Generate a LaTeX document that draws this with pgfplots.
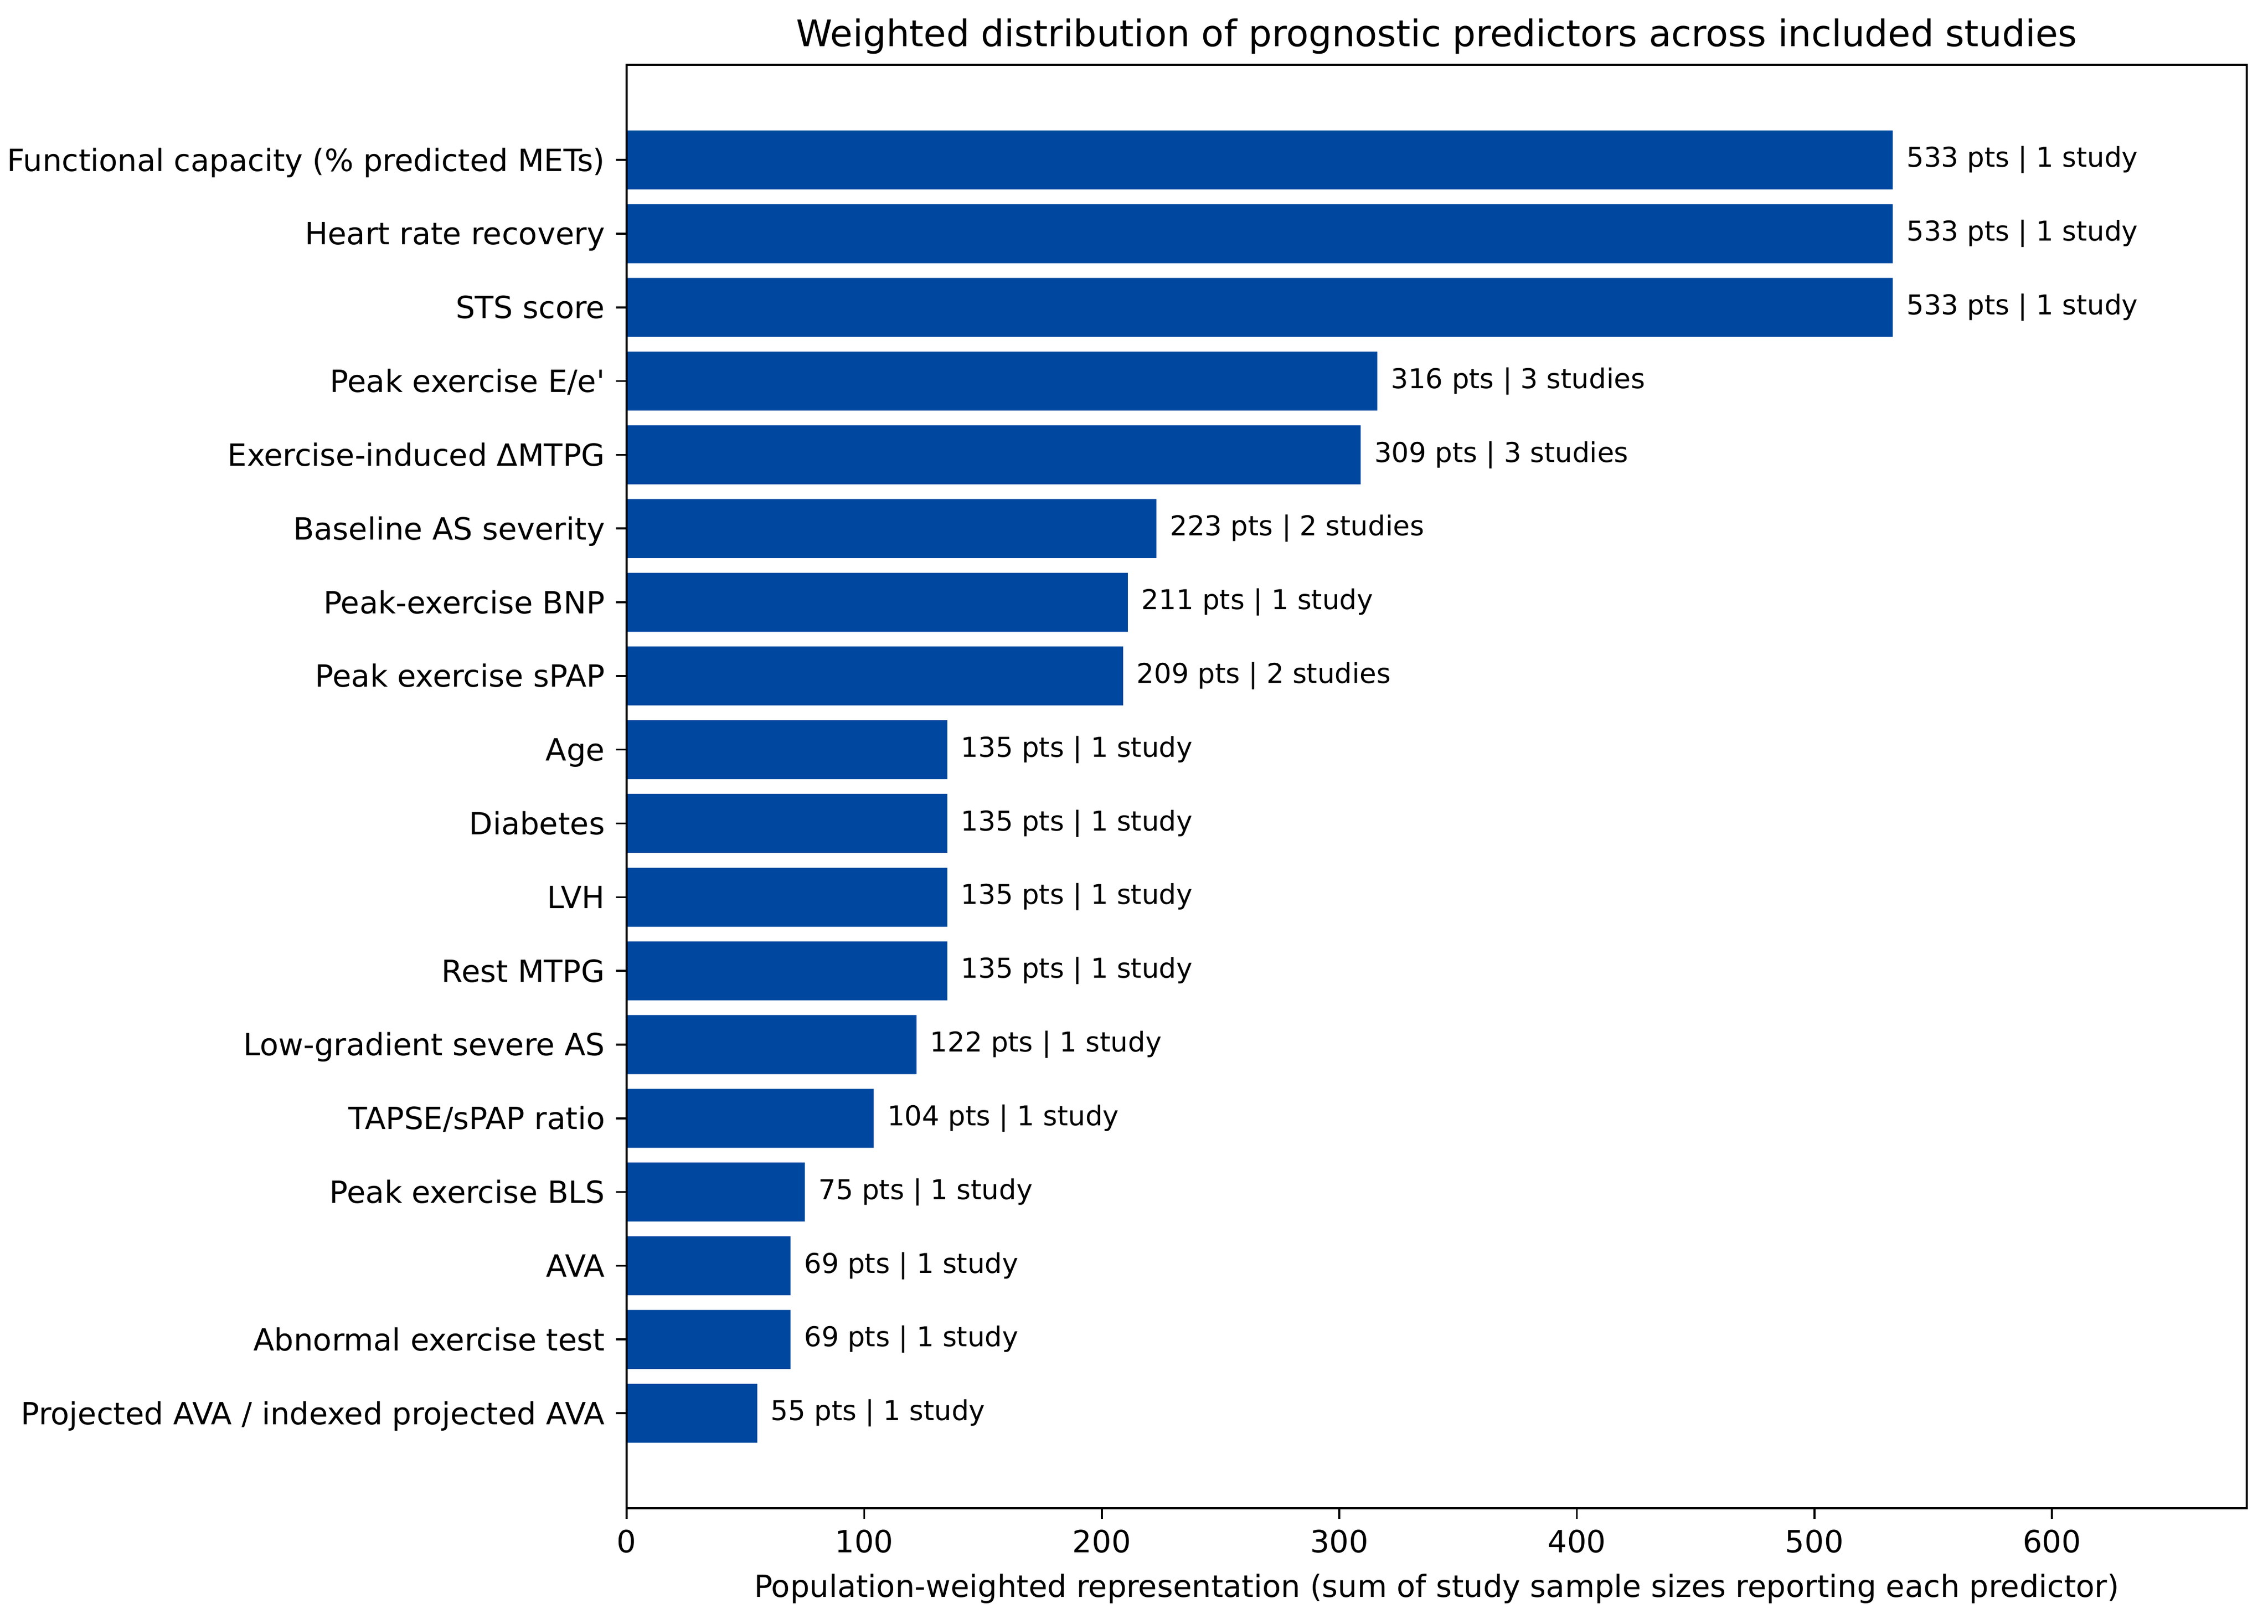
\documentclass[border=0pt]{standalone}
\usepackage{fontspec}
\setmainfont{DejaVu Sans}
\usepackage{pgfplots}
\usepackage{pgfplotstable}
\pgfplotsset{compat=1.18}
\definecolor{barblue}{RGB}{0,71,159}
\pgfplotstableread[col sep=semicolon]{
y;v;lab
0;533;533 pts | 1 study
1;533;533 pts | 1 study
2;533;533 pts | 1 study
3;316;316 pts | 3 studies
4;309;309 pts | 3 studies
5;223;223 pts | 2 studies
6;211;211 pts | 1 study
7;209;209 pts | 2 studies
8;135;135 pts | 1 study
9;135;135 pts | 1 study
10;135;135 pts | 1 study
11;135;135 pts | 1 study
12;122;122 pts | 1 study
13;104;104 pts | 1 study
14;75;75 pts | 1 study
15;69;69 pts | 1 study
16;69;69 pts | 1 study
17;55;55 pts | 1 study
}\datatable
\begin{document}
\begin{tikzpicture}
\path[use as bounding box] (-283.2pt,-52.1pt) rectangle (741.8pt,681.6pt);
\begin{axis}[
  at={(0pt,0pt)}, anchor=south west,
  scale only axis, width=732.2pt, height=652.3pt,
  xbar, bar width=0.8,
  xmin=0, xmax=682,
  ymin=-1.29, ymax=18.29, y dir=reverse,
  ytick={0,...,17},
  yticklabels={Functional capacity (\% predicted METs),Heart rate recovery,STS score,Peak exercise E/e\textquotesingle,Exercise-induced ΔMTPG,Baseline AS severity,Peak-exercise BNP,Peak exercise sPAP,Age,Diabetes,LVH,Rest MTPG,Low-gradient severe AS,TAPSE/sPAP ratio,Peak exercise BLS,AVA,Abnormal exercise test,Projected AVA / indexed projected AVA},
  xtick={0,100,...,600},
  tick align=outside, major tick length=4.8pt,
  tick style={line width=0.85pt, black},
  xtick pos=bottom, ytick pos=left,
  axis line style={line width=0.85pt},
  /pgf/number format/assume math mode=true,
  tick label style={font=\fontsize{13.8pt}{16pt}\selectfont},
  yticklabel style={anchor=base east, inner sep=0pt, xshift=-4.8pt, yshift=-5.03pt},
  xticklabel style={anchor=north, inner sep=0pt, yshift=-4.8pt},
  title={Weighted distribution of prognostic predictors across included studies},
  title style={font=\fontsize{16.55pt}{19pt}\selectfont, at={(axis description cs:0.5,1)}, anchor=base, yshift=2.2pt, inner sep=0pt},
  xlabel={Population-weighted representation (sum of study sample sizes reporting each predictor)},
  xlabel style={font=\fontsize{13.8pt}{16pt}\selectfont, at={(axis description cs:0.5,0)}, anchor=base, yshift=-40.1pt, inner sep=0pt},
  axis on top,
  clip=false,
  point meta=explicit symbolic,
  nodes near coords,
  nodes near coords style={anchor=west, inner sep=0pt, xshift=6pt, font=\fontsize{12.35pt}{14pt}\selectfont, black},
]
\addplot[fill=barblue, draw=none] table[x=v, y=y, meta=lab] {\datatable};
\end{axis}
\end{tikzpicture}
\end{document}
